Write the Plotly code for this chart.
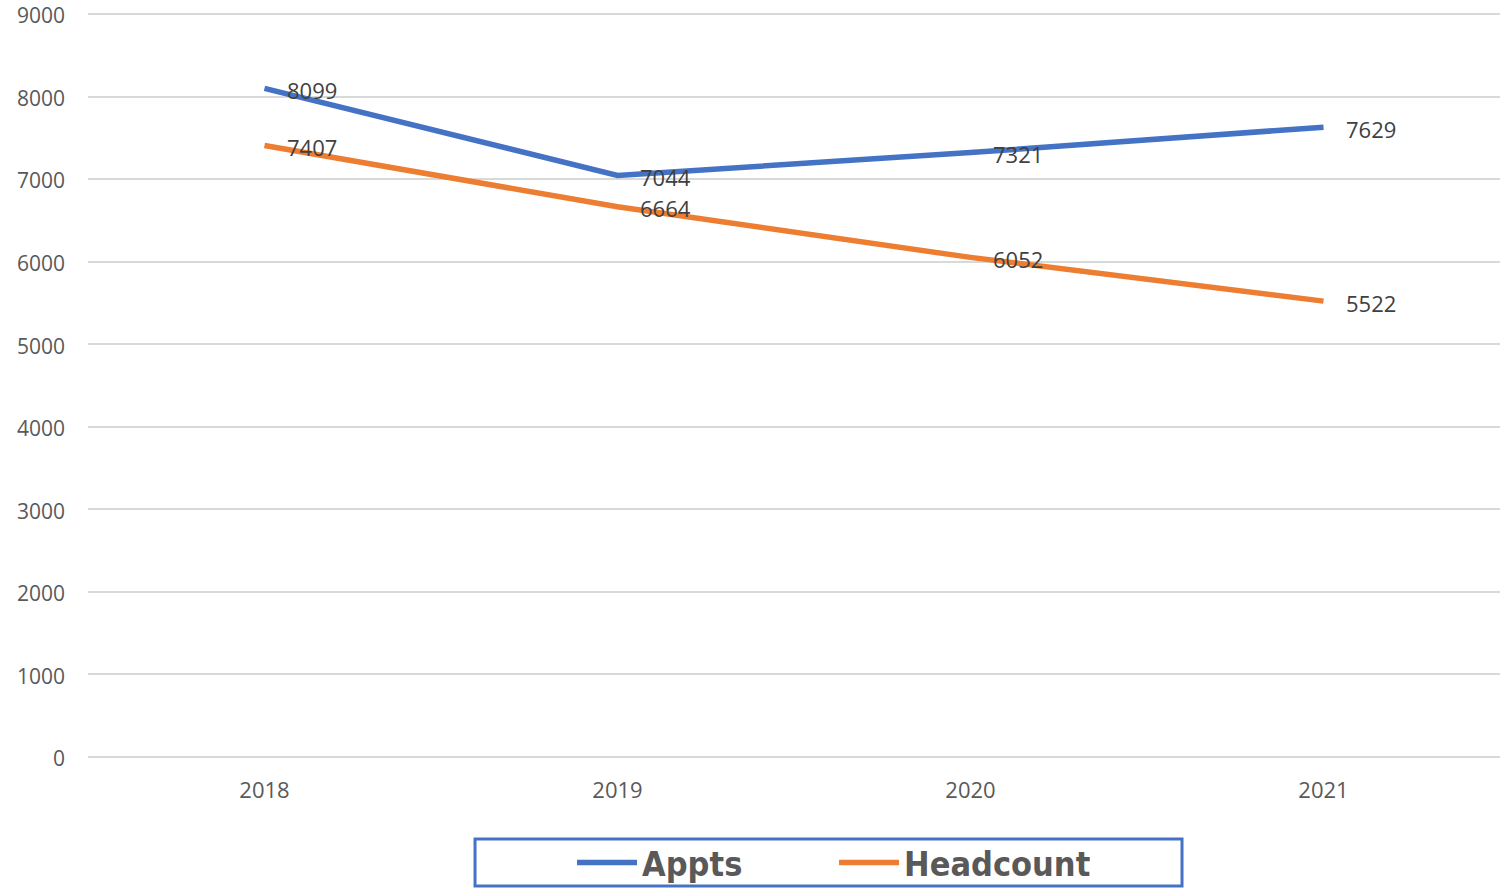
import plotly.graph_objects as go

years = ["2018", "2019", "2020", "2021"]
appts = [8099, 7044, 7321, 7629]
headcount = [7407, 6664, 6052, 5522]
y_ticks = [0, 1000, 2000, 3000, 4000, 5000, 6000, 7000, 8000, 9000]

BLUE = "#4472C4"
ORANGE = "#ED7D31"
FONT = "Open Sans, Noto Sans, sans-serif"

fig = go.Figure()
fig.add_trace(go.Scatter(x=years, y=appts, mode="lines", name="Appts",
                         line=dict(color=BLUE, width=5.5)))
fig.add_trace(go.Scatter(x=years, y=headcount, mode="lines", name="Headcount",
                         line=dict(color=ORANGE, width=5.5)))

annotations = []
for series in (appts, headcount):
    for i, yv in enumerate(series):
        annotations.append(dict(x=i, y=yv, xref="x", yref="y", text=str(yv), showarrow=False,
                                xanchor="left", yanchor="middle", xshift=20, yshift=-1.5,
                                font=dict(family=FONT, size=22, color="#404040")))

fig.update_layout(
    width=1512, height=888,
    margin=dict(l=88, r=12, t=11, b=131),
    paper_bgcolor="white", plot_bgcolor="white",
    showlegend=True,
    annotations=annotations,
    shapes=[dict(type="rect", xref="paper", yref="paper",
                 x0=0.2741, x1=0.7748, y0=-0.1729, y1=-0.1099,
                 line=dict(color=BLUE, width=3), fillcolor="rgba(0,0,0,0)")],
    legend=dict(orientation="h", x=0.3428, xanchor="left",
                yref="container", y=0.02815, yanchor="middle",
                itemwidth=60, entrywidth=187, entrywidthmode="pixels",
                font=dict(family="DejaVu Sans Condensed, Liberation Sans Narrow, sans-serif",
                          size=34, color="#595959", weight="bold"),
                bgcolor="rgba(0,0,0,0)", borderwidth=0),
    xaxis=dict(type="category", range=[-0.5, 3.5], showgrid=False, zeroline=False,
               showline=False, ticks="", ticklabelstandoff=18, automargin=False,
               tickfont=dict(family=FONT, size=22, color="#595959")),
    yaxis=dict(range=[0, 9036], tickvals=y_ticks, showgrid=True, gridcolor="#D9D9D9",
               gridwidth=2, zeroline=True, zerolinecolor="#D9D9D9", zerolinewidth=2,
               showline=False, ticks="", ticklabelstandoff=22, automargin=False,
               ticklabeloverflow="allow", ticklabelshift=2,
               tickfont=dict(family=FONT, size=21, color="#595959")),
)

fig.write_html("out.html", config={"displayModeBar": False},
               post_script="document.body.style.margin='0';document.body.style.overflow='hidden';")
